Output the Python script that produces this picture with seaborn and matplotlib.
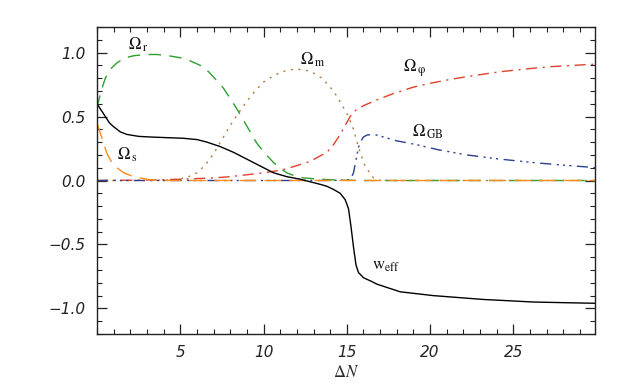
import numpy as np
import pandas as pd
import matplotlib
matplotlib.use("Agg")
import matplotlib.pyplot as plt
import seaborn as sns
from matplotlib.ticker import MultipleLocator

# ---- data ----
x_r = [0, 0.15, 0.3, 0.5, 0.8, 1.2, 1.7, 2.2, 2.9, 3.6, 4.3, 5.0, 5.6, 6.2, 6.7, 7.2, 7.6, 8.0, 8.4, 8.8, 9.2, 9.6, 10.1, 10.6, 11.0, 11.4, 11.9, 12.4, 13.4, 14.5, 16, 20, 25, 30]
y_r = [0.57, 0.65, 0.72, 0.80, 0.87, 0.92, 0.96, 0.975, 0.985, 0.985, 0.975, 0.96, 0.935, 0.90, 0.85, 0.78, 0.72, 0.64, 0.56, 0.47, 0.38, 0.29, 0.21, 0.14, 0.095, 0.06, 0.035, 0.02, 0.01, 0.003, 0, 0, 0, 0]

x_m = [0, 3, 4, 4.5, 5, 5.5, 6, 6.5, 7, 7.5, 8, 8.5, 9, 9.5, 10, 10.5, 11, 11.5, 12, 12.5, 13, 13.5, 14, 14.4, 14.8, 15.1, 15.4, 15.7, 16.1, 16.6, 17, 20, 25, 30]
y_m = [0, 0, 0.003, 0.006, 0.012, 0.03, 0.06, 0.12, 0.21, 0.32, 0.43, 0.53, 0.62, 0.70, 0.77, 0.81, 0.845, 0.865, 0.87, 0.865, 0.84, 0.80, 0.73, 0.66, 0.57, 0.50, 0.40, 0.26, 0.11, 0.02, 0, 0, 0, 0]

x_phi = [0, 2, 4, 5, 6, 7, 8, 9, 10, 11, 11.6, 12.2, 12.8, 13.3, 13.8, 14.2, 14.6, 14.9, 15.2, 15.4, 15.6, 16.0, 16.8, 17.8, 19.0, 20.0, 21.2, 22.6, 24.2, 25.6, 27.2, 28.6, 30]
y_phi = [0, 0.002, 0.006, 0.01, 0.015, 0.02, 0.03, 0.045, 0.06, 0.08, 0.10, 0.125, 0.15, 0.185, 0.22, 0.28, 0.36, 0.43, 0.50, 0.535, 0.555, 0.585, 0.63, 0.68, 0.73, 0.76, 0.79, 0.82, 0.85, 0.87, 0.89, 0.90, 0.91]

x_gb = [0, 10, 14, 15.2, 15.4, 15.55, 15.7, 15.85, 16.0, 16.2, 16.5, 16.8, 17.2, 18.0, 19.2, 20.5, 22.2, 24.0, 26.2, 28.0, 30]
y_gb = [0, 0, 0, 0.005, 0.06, 0.16, 0.26, 0.31, 0.34, 0.355, 0.36, 0.355, 0.34, 0.31, 0.28, 0.24, 0.20, 0.17, 0.14, 0.12, 0.10]

x_s = [0, 0.15, 0.3, 0.45, 0.6, 0.85, 1.1, 1.6, 2.2, 3.2, 4.0, 10, 20, 30]
y_s = [0.45, 0.39, 0.33, 0.27, 0.21, 0.15, 0.11, 0.06, 0.03, 0.005, 0, 0, 0, 0]

x_w = [0, 0.25, 0.5, 0.75, 1.0, 1.4, 1.8, 2.5, 3.2, 4.2, 5.2, 6.0, 6.6, 7.4, 8.2, 8.8, 9.4, 10.0, 10.6, 11.4, 12.2, 12.8, 13.4, 13.8, 14.2, 14.6, 14.9, 15.1, 15.25, 15.4, 15.55, 15.7, 16.0, 16.5, 16.8, 17.5, 18.2, 19.2, 20.2, 21.7, 23.2, 24.7, 26.2, 28.0, 30]
y_w = [0.60, 0.55, 0.50, 0.45, 0.42, 0.38, 0.36, 0.345, 0.34, 0.335, 0.33, 0.32, 0.30, 0.265, 0.22, 0.18, 0.14, 0.10, 0.06, 0.03, 0.01, -0.01, -0.03, -0.045, -0.07, -0.10, -0.15, -0.22, -0.36, -0.52, -0.66, -0.72, -0.76, -0.79, -0.81, -0.84, -0.87, -0.885, -0.90, -0.915, -0.93, -0.94, -0.95, -0.955, -0.96]

labels = [r"$\Omega_{\,\rm r}$", r"$\Omega_{\,\rm m}$", r"$\Omega_{\,\mathrm{φ}}$",
          r"$\Omega_{\,\rm GB}$", r"$\Omega_{\,\rm s}$", r"$\mathrm{w}_{\rm eff}$"]
xticks = [5, 10, 15, 20, 25]
yticks = [-1.0, -0.5, 0.0, 0.5, 1.0]

# ---- plotting ----
sns.set_style("ticks")
plt.rcParams["mathtext.fontset"] = "stix"

fig = plt.figure(figsize=(6.23, 3.88), dpi=100)
ax = fig.add_axes([97 / 623, 1 - 334 / 388, (595 - 97) / 623, (334 - 27) / 388])

green = "#2ca02c"
brown = "#b47a3c"
red = "#e0402a"
blue = "#2a3f8f"
orange = "#ff8c1a"

series = [
    (x_r, y_r, green, (0, (9, 6))),
    (x_m, y_m, brown, (0, (1.5, 4))),
    (x_phi, y_phi, red, (0, (8, 4, 1.5, 4))),
    (x_gb, y_gb, blue, (0, (8, 4, 1.5, 3, 1.5, 3, 1.5, 4))),
    (x_s, y_s, orange, (0, (12, 6))),
    (x_w, y_w, "black", "-"),
]
for xs, ys, c, ls in series:
    df = pd.DataFrame({"x": xs, "y": ys})
    sns.lineplot(data=df, x="x", y="y", ax=ax, color=c, linestyle=ls,
                 linewidth=1.0, sort=False, estimator=None)

ax.set_xlim(0, 29.9)
ax.set_ylim(-1.2, 1.2)
ax.set_xticks(xticks)
ax.set_yticks(yticks)
ax.set_xticklabels([str(t) for t in xticks], fontstyle="italic", fontsize=11)
ax.set_yticklabels(["\u22121.0", "\u22120.5", "0.0", "0.5", "1.0"], fontstyle="italic", fontsize=11)
ax.xaxis.set_minor_locator(MultipleLocator(1))
ax.yaxis.set_minor_locator(MultipleLocator(0.1))
ax.tick_params(which="major", direction="in", length=7, width=0.9, top=True, right=True, pad=8, colors="#222222")
ax.tick_params(which="minor", direction="in", length=3.5, width=0.8, top=True, right=True, colors="#222222")
for sp in ax.spines.values():
    sp.set_linewidth(1.0)
    sp.set_color("#222222")
    sp.set_visible(True)

ax.set_xlabel(r"$\Delta N$", fontsize=12, labelpad=2)
ax.set_ylabel("")

pos = [(1.85, 1.06), (12.2, 0.94), (18.4, 0.88), (18.9, 0.38), (1.2, 0.20), (16.5, -0.66)]
for lab, (px, py) in zip(labels, pos):
    ax.text(px, py, lab, fontsize=12, ha="left", va="center", color="#111111")

fig.savefig("out.png", dpi=100)
